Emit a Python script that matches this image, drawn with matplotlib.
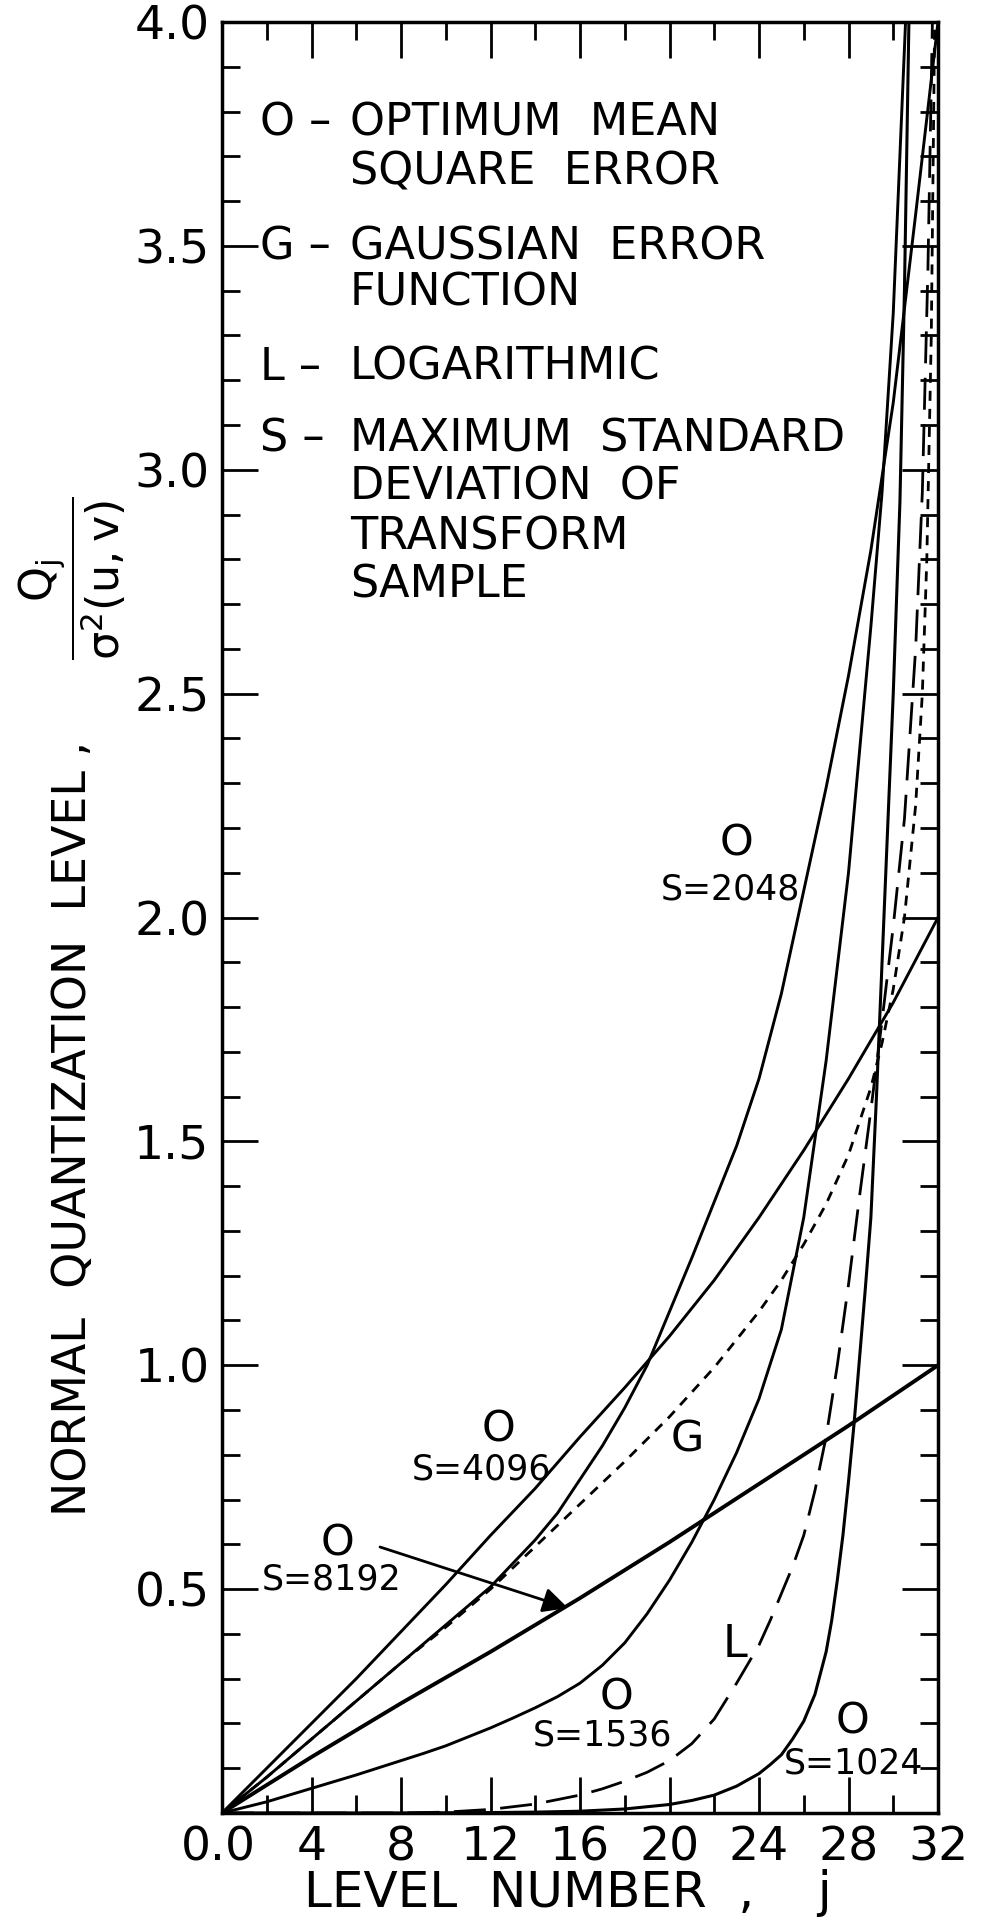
import matplotlib
matplotlib.use("Agg")
import matplotlib.pyplot as plt
import matplotlib.transforms as mtransforms
from matplotlib.ticker import MultipleLocator

plt.rcParams['font.family'] = ['DejaVu Sans']
plt.rcParams['mathtext.default'] = 'regular'

# optimum mean square error curves (level number j -> Q_j / sigma^2)
j_8192 = [0, 4, 8, 12, 16, 20, 24, 28, 32]
q_8192 = [0, 0.125, 0.245, 0.36, 0.48, 0.605, 0.735, 0.865, 1.0]

j_4096 = [0, 2, 4, 6, 8, 10, 12, 14, 16, 18, 20, 22, 24, 26, 28, 30, 32]
q_4096 = [0, 0.10, 0.20, 0.30, 0.405, 0.51, 0.62, 0.725, 0.84, 0.95, 1.065,
          1.19, 1.33, 1.48, 1.64, 1.81, 2.0]

j_2048 = [0, 2, 4, 6, 8, 10, 12, 14, 15, 16, 17, 18, 19, 20, 21, 22, 23, 24,
          25, 26, 27, 28, 29, 30, 31, 32]
q_2048 = [0, 0.08, 0.165, 0.25, 0.335, 0.42, 0.505, 0.61, 0.67, 0.745, 0.82,
          0.905, 1.0, 1.12, 1.24, 1.365, 1.49, 1.64, 1.83, 2.06, 2.29, 2.54,
          2.82, 3.15, 3.57, 4.0]

j_1536 = [0, 2, 4, 6, 8, 9, 10, 11, 12, 13, 14, 15, 16, 17, 18, 19, 20, 21,
          22, 23, 24, 25, 26, 27, 28, 29, 29.5, 30, 30.55]
q_1536 = [0, 0.025, 0.055, 0.085, 0.117, 0.133, 0.15, 0.17, 0.19, 0.212, 0.235,
          0.26, 0.29, 0.33, 0.38, 0.445, 0.52, 0.605, 0.70, 0.805, 0.925, 1.08,
          1.33, 1.68, 2.1, 2.65, 2.95, 3.35, 4.0]

j_1024 = [0, 4, 8, 12, 14, 16, 18, 20, 21, 22, 23, 24, 24.5, 25, 25.5, 26,
          26.5, 27, 27.25, 27.5, 27.75, 28, 28.25, 28.5, 28.75, 29, 29.25,
          29.5, 29.75, 30, 30.3, 30.5, 30.7]
q_1024 = [0, 0, 0, 0.001, 0.002, 0.004, 0.009, 0.019, 0.028, 0.04, 0.06, 0.088,
          0.108, 0.13, 0.165, 0.205, 0.265, 0.36, 0.43, 0.52, 0.62, 0.74, 0.87,
          1.02, 1.17, 1.33, 1.6, 1.9, 2.2, 2.5, 2.93, 3.4, 4.0]

# gaussian error function (G) and logarithmic (L) rules
j_gauss = [0, 2, 4, 6, 8, 10, 12, 14, 16, 18, 20, 22, 24, 25, 26, 27, 28, 29,
           29.5, 30, 30.5, 31, 31.3, 31.5, 31.7, 31.85]
q_gauss = [0, 0.08, 0.165, 0.25, 0.335, 0.415, 0.50, 0.595, 0.69, 0.785, 0.885,
           0.995, 1.12, 1.19, 1.27, 1.36, 1.47, 1.62, 1.72, 1.84, 2.0, 2.25,
           2.5, 2.8, 3.3, 4.0]

j_log = [0, 4, 8, 10, 12, 14, 16, 17, 18, 19, 20, 21, 22, 23, 24, 24.5, 25,
         25.5, 26, 26.5, 27, 27.5, 28, 28.5, 29, 29.5, 30, 30.5, 31, 31.3,
         31.55, 31.75]
q_log = [0, 0, 0, 0.002, 0.008, 0.02, 0.04, 0.054, 0.071, 0.091, 0.117, 0.155,
         0.21, 0.29, 0.375, 0.43, 0.49, 0.55, 0.62, 0.72, 0.84, 1.0, 1.18,
         1.38, 1.57, 1.77, 1.98, 2.22, 2.6, 2.95, 3.45, 4.0]

x_ticks = [0, 4, 8, 12, 16, 20, 24, 28, 32]
x_labels = ['0.0', '4', '8', '12', '16', '20', '24', '28', '32']
y_ticks = [0, 0.5, 1.0, 1.5, 2.0, 2.5, 3.0, 3.5, 4.0]
y_labels = ['', '0.5', '1.0', '1.5', '2.0', '2.5', '3.0', '3.5', '4.0']

legend_keys = ['O –', 'G –', 'L –', 'S –']
legend_text = [['OPTIMUM  MEAN', 'SQUARE  ERROR'],
               ['GAUSSIAN  ERROR', 'FUNCTION'],
               ['LOGARITHMIC'],
               ['MAXIMUM  STANDARD', 'DEVIATION  OF', 'TRANSFORM', 'SAMPLE']]

# canvas layout in pixels
W, H = 988, 1918
L, R, T, B = 222, 938, 22, 1813


def px(x, y):
    """pixel position on the page -> data coords"""
    return (x - L) / (R - L) * 32, (B - y) / (B - T) * 4


fig = plt.figure(figsize=(W / 100, H / 100), dpi=100)
fig.patch.set_facecolor('white')
ax = fig.add_axes([L / W, (H - B) / H, (R - L) / W, (B - T) / H])

ax.plot(j_8192, q_8192, color='k', lw=2.8)
ax.plot(j_4096, q_4096, color='k', lw=2.1)
ax.plot(j_2048, q_2048, color='k', lw=2.1)
ax.plot(j_1536, q_1536, color='k', lw=2.1)
ax.plot(j_1024, q_1024, color='k', lw=2.2)
ax.plot(j_gauss, q_gauss, color='k', lw=2.0, linestyle=(0, (3.6, 2.9)))
ax.plot(j_log, q_log, color='k', lw=2.0, linestyle=(0, (11.5, 5.2)))

ax.set_xlim(0, 32)
ax.set_ylim(0, 4)
for s in ax.spines.values():
    s.set_linewidth(2.5)

ax.set_xticks(x_ticks)
ax.set_xticklabels(x_labels)
ax.set_yticks(y_ticks)
ax.set_yticklabels(y_labels)
ax.xaxis.set_minor_locator(MultipleLocator(2))
ax.yaxis.set_minor_locator(MultipleLocator(0.1))
ax.tick_params(which='major', direction='in', length=26, width=2.0,
               top=True, right=True, labelsize=32, pad=9)
ax.tick_params(which='minor', direction='in', length=13, width=2.0,
               top=True, right=True)
# the lettering on the original is narrow; use a narrow face where one exists
for lbl in ax.get_xticklabels() + ax.get_yticklabels():
    lbl.set_family(['Liberation Sans Narrow', 'DejaVu Sans'])
    lbl.set_fontsize(34)
zero = ax.get_xticklabels()[0]
zero.set_transform(zero.get_transform() +
                   mtransforms.ScaledTranslation(-4 / 100, 0, fig.dpi_scale_trans))

ax.set_xlabel('LEVEL  NUMBER  ,    j', fontsize=36)
ax.xaxis.label.set_verticalalignment('baseline')
ax.xaxis.set_label_coords((568 - L) / (R - L), (B - 1907) / (B - T))
ax.set_ylabel('NORMAL  QUANTIZATION  LEVEL ,', fontsize=33)
ax.yaxis.set_label_coords((96 - L) / (R - L), (B - 1128) / (B - T))
ax.text((72 - L) / (R - L), (B - 578) / (B - T),
        r'$\dfrac{Q_j}{\sigma^2(u,v)}$', transform=ax.transAxes,
        rotation=90, ha='center', va='center', fontsize=32)

# legend block, top left
key_y = [135, 259, 380, 452]
line_y = [[135, 185], [259, 305], [380], [452, 500, 550, 598]]
for key, ky, lines, ly in zip(legend_keys, key_y, legend_text, line_y):
    ax.text(*px(260, ky), key, fontsize=32, ha='left', va='baseline')
    for t, y in zip(lines, ly):
        ax.text(*px(350, y), t, fontsize=32, ha='left', va='baseline')

# curve labels
labels = [('O', 737, 856, 31), ('S=2048', 730, 900, 25),
          ('O', 498, 1441, 31), ('S=4096', 482, 1480, 25),
          ('G', 687, 1452, 31),
          ('O', 337, 1555, 31), ('S=8192', 332, 1590, 25),
          ('O', 617, 1710, 31), ('S=1536', 602, 1745, 25),
          ('L', 735, 1657, 32),
          ('O', 852, 1733, 31), ('S=1024', 853, 1773, 25)]
for t, x, y, fs in labels:
    ax.text(*px(x, y), t, fontsize=fs, ha='center', va='baseline')

ax.annotate('', xy=px(568, 1608), xytext=px(380, 1547),
            arrowprops=dict(arrowstyle='-|>', color='k', lw=2.0,
                            mutation_scale=38, shrinkA=0, shrinkB=0))

fig.savefig('out.png', dpi=100, facecolor='white')
